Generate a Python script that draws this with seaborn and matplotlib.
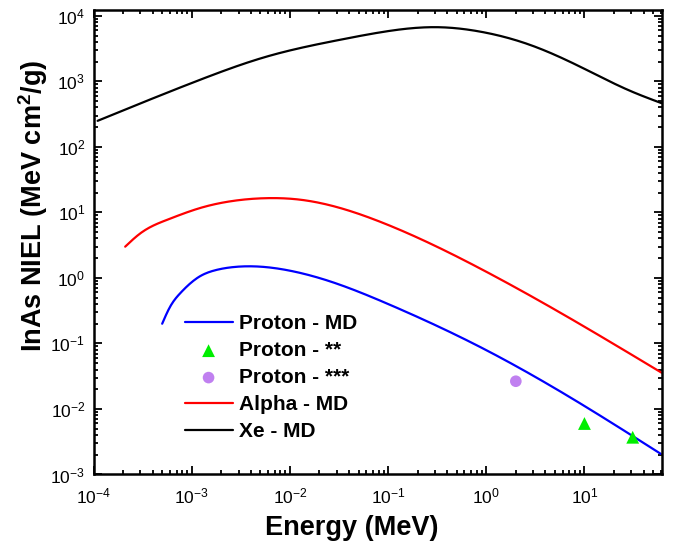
import numpy as np
import pandas as pd
import matplotlib
matplotlib.use("Agg")
import matplotlib.pyplot as plt
import seaborn as sns
from matplotlib.ticker import FixedLocator, NullFormatter

# NIEL curves from molecular dynamics (energy in MeV, NIEL in MeV cm^2/g)
proton_E = [5.0e-4, 6.0e-4, 7.6e-4, 1.2e-3, 1.7e-3, 2.5e-3, 4.4e-3, 1.0e-2, 2.6e-2,
            0.1, 1.0, 10.0, 60.0]
proton_niel = [0.20, 0.36, 0.58, 1.05, 1.30, 1.45, 1.50, 1.29, 0.88,
               0.40, 0.079, 0.0111, 0.00206]

alpha_E = [2.1e-4, 3.0e-4, 5.6e-4, 1.2e-3, 2.65e-3, 5.8e-3, 1.2e-2, 3.3e-2, 8.3e-2,
           0.86, 10.0, 61.0]
alpha_niel = [3.0, 4.8, 7.7, 11.6, 15.0, 16.5, 15.8, 11.6, 7.2,
              1.40, 0.18, 0.0358]

xe_E = [1.1e-4, 1.2e-3, 5.8e-3, 3.2e-2, 8.3e-2, 0.31, 0.86, 2.8, 9.0, 29.0, 61.0]
xe_niel = [250, 1050, 2390, 4300, 5600, 6720, 5760, 3600, 1680, 720, 465]

# Reference data points for protons
p2_E = [10.0, 31.0]
p2_niel = [0.0060, 0.0037]
p3_E = [2.0]
p3_niel = [0.0265]

# Axis ranges and decade ticks
x_range = (1e-4, 61)
y_range = (1e-3, 1.23e4)
x_decades = [1e-4, 1e-3, 1e-2, 1e-1, 1e0, 1e1]
y_decades = [1e-3, 1e-2, 1e-1, 1e0, 1e1, 1e2, 1e3, 1e4]

sns.set_theme(style="ticks")
plt.rcParams["font.family"] = ["Liberation Sans", "DejaVu Sans"]
plt.rcParams["mathtext.fontset"] = "custom"
plt.rcParams["mathtext.rm"] = "Liberation Sans"
plt.rcParams["mathtext.bf"] = "Liberation Sans:bold"
for key in ("text.color", "axes.labelcolor", "xtick.color", "ytick.color",
            "axes.edgecolor"):
    plt.rcParams[key] = "black"

fig = plt.figure(figsize=(6.73, 5.45), dpi=100)
ax = fig.add_axes([0.139, 0.1294, 0.844, 0.8523])


def spline_loglog(E, v, n=400):
    """Natural cubic spline through the points in log-log space."""
    x = np.log10(np.asarray(E, float))
    y = np.log10(np.asarray(v, float))
    k = len(x)
    h = np.diff(x)
    A = np.zeros((k, k))
    b = np.zeros(k)
    A[0, 0] = A[-1, -1] = 1.0
    for i in range(1, k - 1):
        A[i, i - 1] = h[i - 1]
        A[i, i] = 2 * (h[i - 1] + h[i])
        A[i, i + 1] = h[i]
        b[i] = 6 * ((y[i + 1] - y[i]) / h[i] - (y[i] - y[i - 1]) / h[i - 1])
    M = np.linalg.solve(A, b)
    xs = np.linspace(x[0], x[-1], n)
    i = np.clip(np.searchsorted(x, xs) - 1, 0, k - 2)
    t1 = x[i + 1] - xs
    t0 = xs - x[i]
    ys = (M[i] * t1**3 + M[i + 1] * t0**3) / (6 * h[i]) \
        + (y[i] / h[i] - M[i] * h[i] / 6) * t1 \
        + (y[i + 1] / h[i] - M[i + 1] * h[i] / 6) * t0
    return 10**xs, 10**ys


frames = []
for name, E, v in [("Proton - MD", proton_E, proton_niel),
                   ("Alpha - MD", alpha_E, alpha_niel),
                   ("Xe - MD", xe_E, xe_niel)]:
    xs, ys = spline_loglog(E, v)
    frames.append(pd.DataFrame({"Energy": xs, "NIEL": ys, "series": name}))
curves = pd.concat(frames, ignore_index=True)

palette = {"Proton - MD": "#0000FF", "Alpha - MD": "#FF0000", "Xe - MD": "#000000"}

sns.lineplot(data=curves[curves.series == "Proton - MD"], x="Energy", y="NIEL",
             color=palette["Proton - MD"], lw=1.6, ax=ax, label="Proton - MD",
             sort=False, estimator=None)
sns.scatterplot(x=p2_E, y=p2_niel, marker="^", color="#00EE00", s=85,
                edgecolor="none", ax=ax, label="Proton - **", zorder=3)
sns.scatterplot(x=p3_E, y=p3_niel, marker="o", color="#C080F0", s=70,
                edgecolor="none", ax=ax, label="Proton - ***", zorder=3)
sns.lineplot(data=curves[curves.series == "Alpha - MD"], x="Energy", y="NIEL",
             color=palette["Alpha - MD"], lw=1.6, ax=ax, label="Alpha - MD",
             sort=False, estimator=None)
sns.lineplot(data=curves[curves.series == "Xe - MD"], x="Energy", y="NIEL",
             color=palette["Xe - MD"], lw=1.6, ax=ax, label="Xe - MD",
             sort=False, estimator=None)

ax.set_xscale("log")
ax.set_yscale("log")
ax.set_xlim(*x_range)
ax.set_ylim(*y_range)


def minor_ticks(lo, hi):
    vals = [m * 10.0**p for p in range(-6, 6) for m in range(2, 10)]
    return [v for v in vals if lo <= v <= hi]


ax.xaxis.set_major_locator(FixedLocator(x_decades))
ax.yaxis.set_major_locator(FixedLocator(y_decades))
ax.xaxis.set_minor_locator(FixedLocator(minor_ticks(*x_range)))
ax.yaxis.set_minor_locator(FixedLocator(minor_ticks(*y_range)))
ax.xaxis.set_minor_formatter(NullFormatter())
ax.yaxis.set_minor_formatter(NullFormatter())

ax.tick_params(which="both", direction="in", top=True, right=True,
               labelsize=12.5, width=1.3)
ax.tick_params(which="major", length=6, pad=6)
ax.tick_params(axis="x", which="major", pad=9)
ax.tick_params(which="minor", length=3)
for sp in ax.spines.values():
    sp.set_linewidth(1.8)

ax.set_xlabel("Energy (MeV)", fontsize=19.5, fontweight="bold")
ax.xaxis.set_label_coords(0.454, -0.088, transform=ax.transAxes)
ax.xaxis.label.set_va("top")
ax.set_ylabel(r"InAs NIEL (MeV cm$^\mathbf{2}$/g)", fontsize=19.5,
              fontweight="bold")
ax.yaxis.set_label_coords(-0.0766, 0.578, transform=ax.transAxes)

leg = ax.legend(loc="upper left", bbox_to_anchor=(0.1603, 0.345), frameon=False,
                prop={"weight": "bold", "size": 15}, handlelength=2.3,
                handletextpad=0.3, labelspacing=0.38, borderpad=0,
                borderaxespad=0)

fig.savefig("out.png", dpi=100, facecolor="white")
